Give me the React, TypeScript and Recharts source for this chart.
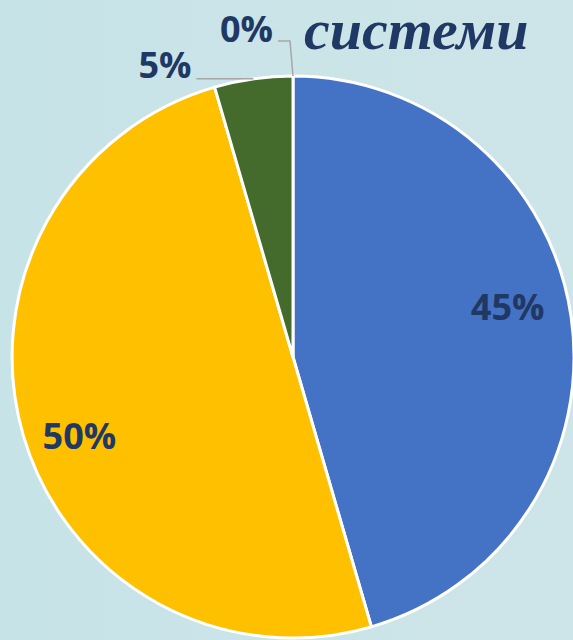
import React from 'react';
import { PieChart, Pie, Cell } from 'recharts';

const categories = ['A', 'B', 'C', 'D'];
const values = [45.5, 50, 4.5, 0];
const labels = ['45%', '50%', '5%', '0%'];
const colors = ['#4472c4', '#ffc000', '#446a2c', '#a5a5a5'];
const title = 'системи';

const data = categories.map((name, i) => ({ name, value: values[i] }));

const RAD = Math.PI / 180;
const TEXT = '#1f3864';
const LINE = '#a6a6a6';

const renderLabel = (props: any) => {
  const { cx, cy, midAngle, outerRadius, index } = props;
  const text = labels[index];
  const common = {
    fill: TEXT,
    fontFamily: '"Open Sans", "Noto Sans", sans-serif',
    fontWeight: 700,
    fontSize: 36,
  };
  if (index === 0 || index === 1) {
    const off = index === 0 ? 5.2 : 4.0;
    const a = (midAngle + off) * RAD;
    const r = outerRadius * (index === 0 ? 0.785 : 0.81);
    const x = cx + r * Math.cos(a);
    const y = cy - r * Math.sin(a);
    return (
      <text key={index} x={x} y={y} textAnchor="middle" dominantBaseline="central" {...common}>
        {text}
      </text>
    );
  }
  const a = midAngle * RAD;
  const px = cx + outerRadius * Math.cos(a);
  const py = cy - outerRadius * Math.sin(a);
  if (index === 2) {
    const ex = px - 57;
    return (
      <g key={index}>
        <polyline points={`${px},${py} ${ex},${py}`} stroke={LINE} strokeWidth={1.5} fill="none" />
        <text x={ex - 5} y={py - 1} textAnchor="end" {...common}>
          {text}
        </text>
      </g>
    );
  }
  const ty = py - 35;
  const ex = px - 15;
  return (
    <g key={index}>
      <polyline points={`${px},${py} ${px - 3},${ty} ${ex},${ty}`} stroke={LINE} strokeWidth={1.5} fill="none" />
      <text x={ex - 5} y={ty + 1} textAnchor="end" {...common}>
        {text}
      </text>
    </g>
  );
};

export default function App() {
  return (
    <div
      style={{
        position: 'fixed',
        left: 0,
        top: 0,
        width: 573,
        height: 640,
        overflow: 'hidden',
        background: 'linear-gradient(90deg, #c6e3e8 0%, #cbe4e8 50%, #cde5e8 100%)',
      }}
    >
      <PieChart width={573} height={640} margin={{ top: 0, right: 0, bottom: 0, left: 0 }}>
        <Pie
          data={data}
          dataKey="value"
          nameKey="name"
          cx={293}
          cy={357}
          outerRadius={281}
          startAngle={90}
          endAngle={-270}
          stroke="#ffffff"
          strokeWidth={3}
          label={renderLabel}
          labelLine={false}
          isAnimationActive={false}
        >
          {data.map((d, i) => (
            <Cell key={d.name} fill={colors[i]} />
          ))}
        </Pie>
      </PieChart>
      <div
        style={{
          position: 'absolute',
          left: 304,
          top: 0,
          fontFamily: '"Liberation Serif", serif',
          fontStyle: 'italic',
          fontWeight: 700,
          fontSize: 58,
          color: TEXT,
          lineHeight: '60px',
          whiteSpace: 'nowrap',
        }}
      >
        {title}
      </div>
    </div>
  );
}
